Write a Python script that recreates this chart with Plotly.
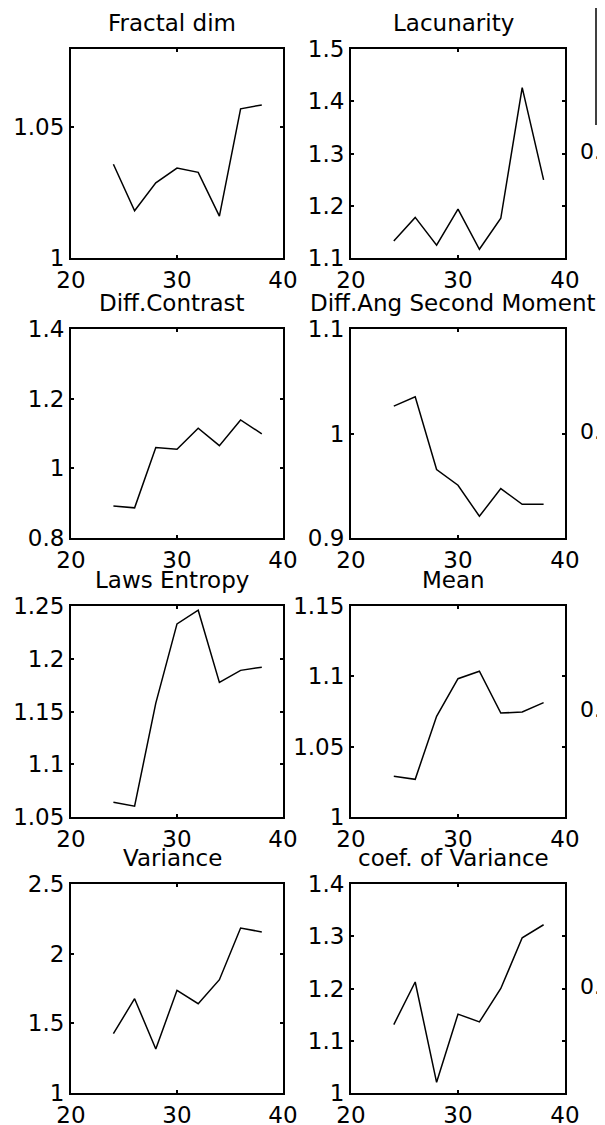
import plotly.graph_objects as go

# ---------------- data ----------------
x_vals = [24, 26, 28, 30, 32, 34, 36, 38]

titles = ["Fractal dim", "Lacunarity", "Diff.Contrast", "Diff.Ang Second Moment",
          "Laws Entropy", "Mean", "Variance", "coef. of Variance"]

fractal_dim = [1.0359, 1.0181, 1.0288, 1.0344, 1.0328, 1.0160, 1.0571, 1.0586]
lacunarity = [1.1327, 1.1777, 1.1244, 1.1937, 1.1167, 1.1760, 1.4260, 1.2496]
diff_contrast = [0.892, 0.8865, 1.0596, 1.0548, 1.115, 1.065, 1.139, 1.099]
diff_ang_sm = [1.0262, 1.0351, 0.9655, 0.9505, 0.9208, 0.9473, 0.9323, 0.9323]
laws_entropy = [1.064, 1.0602, 1.158, 1.233, 1.246, 1.1775, 1.189, 1.192]
mean_vals = [1.0289, 1.0268, 1.0716, 1.0983, 1.1036, 1.0739, 1.0746, 1.0813]
variance = [1.426, 1.677, 1.316, 1.737, 1.641, 1.813, 2.184, 2.156]
coef_variance = [1.131, 1.2125, 1.0204, 1.151, 1.136, 1.200, 1.297, 1.322]

series = [fractal_dim, lacunarity, diff_contrast, diff_ang_sm,
          laws_entropy, mean_vals, variance, coef_variance]

y_ranges = [[1, 1.08], [1.1, 1.5], [0.8, 1.4], [0.9, 1.1],
            [1.05, 1.25], [1.0, 1.15], [1, 2.5], [1, 1.4]]
y_tickvals = [[1, 1.05], [1.1, 1.2, 1.3, 1.4, 1.5], [0.8, 1.0, 1.2, 1.4], [0.9, 1.0, 1.1],
              [1.05, 1.1, 1.15, 1.2, 1.25], [1.0, 1.05, 1.1, 1.15], [1, 1.5, 2, 2.5],
              [1, 1.1, 1.2, 1.3, 1.4]]
y_ticktext = [["1", "1.05"], ["1.1", "1.2", "1.3", "1.4", "1.5"], ["0.8", "1", "1.2", "1.4"],
              ["0.9", "1", "1.1"], ["1.05", "1.1", "1.15", "1.2", "1.25"],
              ["1", "1.05", "1.1", "1.15"], ["1", "1.5", "2", "2.5"],
              ["1", "1.1", "1.2", "1.3", "1.4"]]
x_range = [20, 40]
x_tickvals = [20, 30, 40]
x_ticktext = ["20", "30", "40"]
cut_label = "0."  # truncated tick labels of the clipped third column

# ---------------- layout ----------------
# the page body adds an 8px margin, so the figure is smaller and coords are shifted
W, H = 597, 1117
col_px = [(63, 275), (343, 557)]
row_px = [(41, 250), (321, 530), (598, 809), (876, 1085)]
FONT = "DejaVu Sans"
FS = 23
TFS = 23

fig = go.Figure()
annotations = []
for i, (ys, title) in enumerate(zip(series, titles)):
    r, c = divmod(i, 2)
    n = i + 1
    xa = "x" if n == 1 else f"x{n}"
    ya = "y" if n == 1 else f"y{n}"
    fig.add_trace(go.Scatter(x=x_vals, y=ys, mode="lines",
                             line=dict(color="black", width=1.5),
                             xaxis=xa, yaxis=ya, showlegend=False))
    x0, x1 = col_px[c]
    t, b = row_px[r]
    axstyle = dict(showline=True, linecolor="black", linewidth=2, mirror="ticks",
                   ticks="inside", ticklen=3, tickwidth=1.5, tickcolor="black",
                   showgrid=False, zeroline=False, automargin=False,
                   tickfont=dict(family=FONT, size=FS, color="black"))
    fig.layout[("xaxis" if n == 1 else f"xaxis{n}")] = dict(
        domain=[x0 / W, x1 / W], range=x_range, anchor=ya,
        tickmode="array", tickvals=x_tickvals, ticktext=x_ticktext, **axstyle)
    fig.layout[("yaxis" if n == 1 else f"yaxis{n}")] = dict(
        domain=[1 - b / H, 1 - t / H], range=y_ranges[i], anchor=xa,
        tickmode="array", tickvals=y_tickvals[i], ticktext=y_ticktext[i], **axstyle)
    annotations.append(dict(text=title, xref="paper", yref="paper",
                            x=((x0 + x1) / 2 - 5) / W, y=1 - (t - 26) / H,
                            xanchor="center", yanchor="middle", showarrow=False,
                            font=dict(family=FONT, size=TFS, color="black")))
    if c == 1:
        annotations.append(dict(text=cut_label, xref="paper", yref="paper",
                                x=570 / W, y=1 - (t + (b - t) / 2 - 2) / H,
                                xanchor="left", yanchor="middle", showarrow=False,
                                font=dict(family=FONT, size=22, color="black")))

fig.update_layout(
    width=W, height=H, margin=dict(l=0, r=0, t=0, b=0, autoexpand=False),
    paper_bgcolor="white", plot_bgcolor="white",
    annotations=annotations,
    shapes=[dict(type="line", xref="paper", yref="paper",
                 x0=588 / W, x1=588 / W, y0=1 - 117 / H, y1=1.0,
                 line=dict(color="black", width=1.5))],
)
fig.write_html("out.html")
